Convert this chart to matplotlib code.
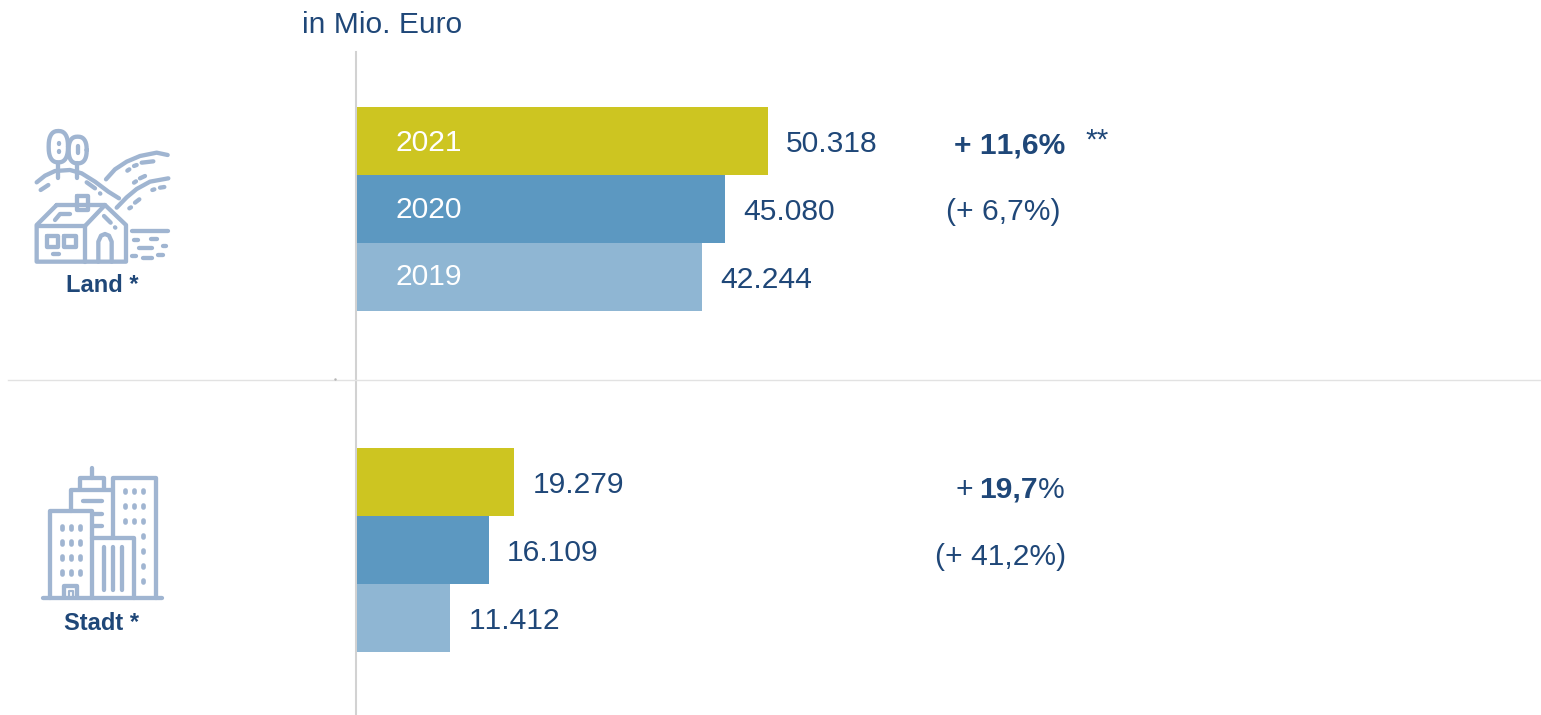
import math
import matplotlib
matplotlib.use('Agg')
import matplotlib.pyplot as plt

plt.rcParams['font.family'] = ['Liberation Sans', 'DejaVu Sans']
plt.rcParams['text.kerning_factor'] = 6

W, H = 1541, 715
BLAU = '#1f4778'
ICON = '#a0b5d1'

# Werte in Mio. Euro
jahre = ['2021', '2020', '2019']
land = [50318, 45080, 42244]
stadt = [19279, 16109, 11412]
land_labels = ['50.318', '45.080', '42.244']
stadt_labels = ['19.279', '16.109', '11.412']
farben = ['#cdc521', '#5c98c1', '#8fb6d3']

fig = plt.figure(figsize=(W / 100, H / 100), dpi=100)

# Achse in Pixeln für Texte, Linien und Icons
px = fig.add_axes([0, 0, 1, 1])
px.set_xlim(0, W)
px.set_ylim(H, 0)
px.axis('off')

# Achse für die Balken, beginnt an der Nulllinie
X0 = 357
PRO_EINHEIT = 411 / 50318
ax = fig.add_axes([X0 / W, 0, (W - X0) / W, 1])
ax.set_xlim(0, (W - X0) / PRO_EINHEIT)
ax.set_ylim(H, 0)
ax.axis('off')
ax.patch.set_alpha(0)

BALKEN = 68


def balken(werte, labels, y_start, jahr_text=False):
    for i, wert in enumerate(werte):
        y = y_start + i * BALKEN
        ax.barh(y + BALKEN / 2, wert, height=BALKEN, color=farben[i], linewidth=0)
        ax.annotate(labels[i], (wert, y + BALKEN / 2), xytext=(13, -2.2),
                    textcoords='offset points', va='center', ha='left',
                    fontsize=21.6, color=BLAU)
        if jahr_text:
            ax.annotate(jahre[i], (0, y + BALKEN / 2), xytext=(28, -1.2 + 0.6 * i),
                        textcoords='offset points', va='center', ha='left',
                        fontsize=21.6, color='white')


balken(land, land_labels, 107, jahr_text=True)
balken(stadt, stadt_labels, 448)

# Linien
px.plot([356, 356], [52, 715], color='#d2d2d2', lw=1.5)
px.plot([8, 1541], [380, 380], color='#e2e2e2', lw=1)
px.plot([335], [379], marker='.', ms=1.5, color='#b5b5b5')

px.text(302, 25, 'in Mio. Euro', fontsize=21.6, color=BLAU, va='center')

# Veränderungen
px.text(1065, 145, '+ 11,6%', fontsize=21.6, color=BLAU, weight='bold', ha='right', va='center')
px.text(1085, 141, '**', fontsize=21.6, color=BLAU, va='center')
px.text(1061, 212, '(+ 6,7%)', fontsize=21.6, color=BLAU, ha='right', va='center')
px.text(1065, 490, '%', fontsize=21.6, color=BLAU, ha='right', va='center')
px.text(1038, 490, '19,7', fontsize=21.6, color=BLAU, weight='bold', ha='right', va='center')
px.text(973, 490, '+', fontsize=21.6, color=BLAU, ha='right', va='center')
px.text(1066, 557, '(+ 41,2%)', fontsize=21.6, color=BLAU, ha='right', va='center')

px.text(102, 285, 'Land *', fontsize=17, color=BLAU, weight='bold', ha='center', va='center')
px.text(102, 623, 'Stadt *', fontsize=17, color=BLAU, weight='bold', ha='center', va='center')

LW = 3.1


def zug(punkte, ox, oy, lw=LW):
    xs = [ox + p[0] / 3 for p in punkte]
    ys = [oy + p[1] / 3 for p in punkte]
    px.plot(xs, ys, color=ICON, lw=lw, solid_capstyle='round', solid_joinstyle='round')


def baum(cx, cy, a, b, ox, oy):
    # Baumkrone als abgerundetes Oval
    punkte = []
    for grad in range(0, 361, 10):
        t = math.radians(grad)
        c, s = math.cos(t), math.sin(t)
        punkte.append((cx + a * math.copysign(abs(c) ** 0.8, c),
                       cy + b * math.copysign(abs(s) ** 0.8, s)))
    zug(punkte, ox, oy)


# Icon Land
lx, ly = 20, 120
baum(115, 80, 29, 47, lx, ly)
baum(173, 90, 27, 40, lx, ly)
land_zuege = [
    [(115, 128), (115, 175)],
    [(170, 130), (170, 175)],
    [(118, 68), (118, 71)],
    [(118, 92), (118, 95)],
    [(175, 78), (175, 98)],
    [(50, 187), (75, 167), (105, 153), (150, 150), (185, 160), (225, 185), (265, 215), (297, 235)],
    [(62, 210), (85, 195)],
    [(200, 187), (225, 205)],
    [(240, 220), (241, 221)],
    [(258, 178), (285, 148), (320, 125), (360, 108), (410, 98), (443, 105)],
    [(322, 152), (328, 148)],
    [(342, 138), (350, 135)],
    [(365, 128), (400, 124)],
    [(290, 263), (320, 232), (350, 207), (390, 185), (445, 175)],
    [(328, 265), (333, 262)],
    [(345, 248), (358, 238)],
    [(342, 188), (348, 184)],
    [(360, 175), (375, 168)],
    [(397, 210), (403, 208)],
    [(420, 203), (433, 201)],
    [(110, 255), (50, 315), (50, 425), (318, 425), (318, 315), (255, 255), (110, 255)],
    [(50, 318), (195, 318), (195, 425)],
    [(195, 318), (255, 255)],
    [(170, 228), (205, 228), (205, 270), (170, 270), (170, 228)],
    [(105, 300), (120, 282), (150, 282)],
    [(252, 288), (272, 308)],
    [(285, 322), (286, 323)],
    [(82, 347), (115, 347), (115, 380), (82, 380), (82, 347)],
    [(133, 347), (167, 347), (167, 380), (133, 380), (133, 347)],
    [(78, 402), (79, 402)],
    [(100, 402), (118, 402)],
    [(235, 425), (235, 365), (243, 347), (255, 342), (267, 347), (275, 365), (275, 425)],
    [(335, 332), (445, 332)],
    [(343, 360), (355, 360)],
    [(392, 357), (412, 357)],
    [(358, 383), (395, 383)],
    [(428, 378), (438, 378)],
    [(335, 408), (348, 408)],
    [(368, 415), (395, 415)],
    [(415, 405), (430, 405)],
]
for punkte in land_zuege:
    zug(punkte, lx, ly)

# Icon Stadt
sx, sy = 20, 455
stadt_zuege = [
    [(70, 430), (425, 430)],
    [(90, 430), (90, 167), (215, 167), (215, 430)],
    [(152, 167), (152, 105), (272, 105)],
    [(180, 100), (180, 68), (252, 68), (252, 100)],
    [(215, 40), (215, 68)],
    [(280, 245), (280, 68), (407, 68), (407, 430)],
    [(215, 250), (342, 250), (342, 430)],
    [(252, 275), (252, 405)],
    [(280, 275), (280, 405)],
    [(307, 275), (307, 405)],
    [(188, 138), (245, 138)],
    [(220, 177), (245, 177)],
    [(220, 212), (245, 212)],
    [(133, 425), (133, 392), (172, 392), (172, 425)],
]
for punkte in stadt_zuege:
    zug(punkte, sx, sy)
zug([(146, 425), (146, 408), (159, 408), (159, 425)], sx, sy, lw=1.6)
for fx in [125, 153, 180]:
    for fy in [217, 262, 307, 352]:
        zug([(fx, fy - 4), (fx, fy + 4)], sx, sy, lw=3.4)
for fx in [315, 342, 369]:
    for fy in [108, 153, 198]:
        zug([(fx, fy - 4), (fx, fy + 4)], sx, sy, lw=3.4)
for fy in [243, 288, 333, 378]:
    zug([(369, fy - 4), (369, fy + 4)], sx, sy, lw=3.4)

fig.savefig('out.png', dpi=100)
